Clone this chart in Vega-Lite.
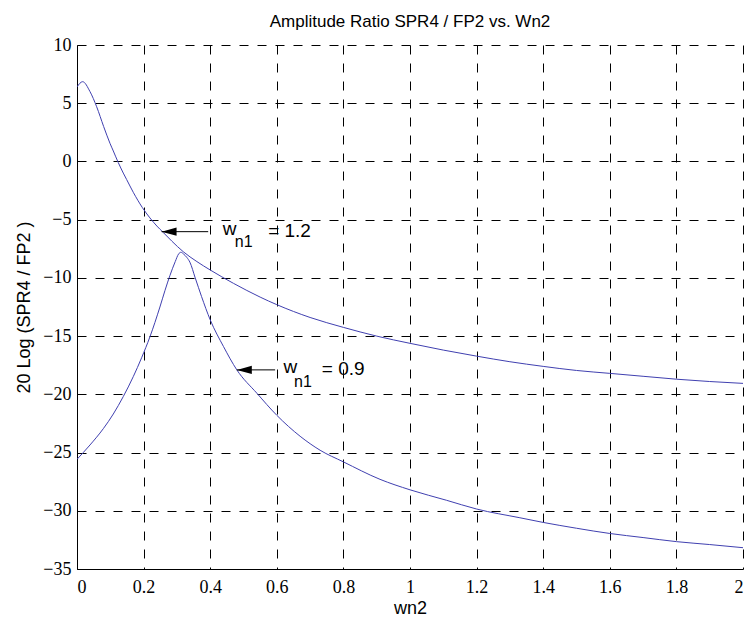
{
  "$schema": "https://vega.github.io/schema/vega-lite/v6.json",
  "width": 666,
  "height": 524,
  "autosize": {"type": "none"},
  "padding": {"left": 77, "top": 45, "right": 4, "bottom": 51},
  "background": "white",
  "config": {
    "view": {"stroke": null},
    "axis": {
      "domainColor": "black",
      "domainWidth": 1,
      "gridColor": "black",
      "gridOpacity": 1,
      "gridWidth": 1,
      "gridDash": [9, 9],
      "ticks": false,
      "labelColor": "black",
      "titleFont": "Liberation Sans",
      "titleFontSize": 18,
      "titleFontWeight": "normal",
      "titleColor": "black"
    }
  },
  "title": {
    "text": "Amplitude Ratio SPR4 / FP2 vs. Wn2",
    "font": "Liberation Sans",
    "fontSize": 17,
    "fontWeight": "normal",
    "color": "black",
    "anchor": "middle",
    "frame": "group",
    "offset": 5
  },
  "datasets": {
    "curves": [
      {"s": "wn1=1.2", "x": 0, "y": 6.4},
      {"s": "wn1=1.2", "x": 0.017, "y": 6.85},
      {"s": "wn1=1.2", "x": 0.039, "y": 6.0},
      {"s": "wn1=1.2", "x": 0.059, "y": 4.7},
      {"s": "wn1=1.2", "x": 0.08, "y": 3.0},
      {"s": "wn1=1.2", "x": 0.099, "y": 1.56},
      {"s": "wn1=1.2", "x": 0.109, "y": 0.9},
      {"s": "wn1=1.2", "x": 0.124, "y": -0.1},
      {"s": "wn1=1.2", "x": 0.139, "y": -1.0},
      {"s": "wn1=1.2", "x": 0.149, "y": -1.55},
      {"s": "wn1=1.2", "x": 0.169, "y": -2.65},
      {"s": "wn1=1.2", "x": 0.196, "y": -3.95},
      {"s": "wn1=1.2", "x": 0.219, "y": -4.85},
      {"s": "wn1=1.2", "x": 0.24, "y": -5.55},
      {"s": "wn1=1.2", "x": 0.259, "y": -6.1},
      {"s": "wn1=1.2", "x": 0.285, "y": -6.85},
      {"s": "wn1=1.2", "x": 0.319, "y": -7.75},
      {"s": "wn1=1.2", "x": 0.36, "y": -8.6},
      {"s": "wn1=1.2", "x": 0.4, "y": -9.32},
      {"s": "wn1=1.2", "x": 0.47, "y": -10.47},
      {"s": "wn1=1.2", "x": 0.55, "y": -11.65},
      {"s": "wn1=1.2", "x": 0.6, "y": -12.3},
      {"s": "wn1=1.2", "x": 0.7, "y": -13.4},
      {"s": "wn1=1.2", "x": 0.8, "y": -14.25},
      {"s": "wn1=1.2", "x": 0.9, "y": -15.0},
      {"s": "wn1=1.2", "x": 1.0, "y": -15.62},
      {"s": "wn1=1.2", "x": 1.1, "y": -16.2},
      {"s": "wn1=1.2", "x": 1.2, "y": -16.72},
      {"s": "wn1=1.2", "x": 1.3, "y": -17.2},
      {"s": "wn1=1.2", "x": 1.4, "y": -17.6},
      {"s": "wn1=1.2", "x": 1.5, "y": -17.95},
      {"s": "wn1=1.2", "x": 1.6, "y": -18.2},
      {"s": "wn1=1.2", "x": 1.7, "y": -18.45},
      {"s": "wn1=1.2", "x": 1.8, "y": -18.7},
      {"s": "wn1=1.2", "x": 1.9, "y": -18.9},
      {"s": "wn1=1.2", "x": 2.0, "y": -19.06},
      {"s": "wn1=0.9", "x": 0, "y": -25.58},
      {"s": "wn1=0.9", "x": 0.039, "y": -24.35},
      {"s": "wn1=0.9", "x": 0.079, "y": -22.95},
      {"s": "wn1=0.9", "x": 0.109, "y": -21.69},
      {"s": "wn1=0.9", "x": 0.139, "y": -20.19},
      {"s": "wn1=0.9", "x": 0.169, "y": -18.48},
      {"s": "wn1=0.9", "x": 0.194, "y": -16.86},
      {"s": "wn1=0.9", "x": 0.219, "y": -15.06},
      {"s": "wn1=0.9", "x": 0.249, "y": -12.5},
      {"s": "wn1=0.9", "x": 0.264, "y": -11.1},
      {"s": "wn1=0.9", "x": 0.279, "y": -9.8},
      {"s": "wn1=0.9", "x": 0.295, "y": -8.6},
      {"s": "wn1=0.9", "x": 0.305, "y": -7.95},
      {"s": "wn1=0.9", "x": 0.312, "y": -7.8},
      {"s": "wn1=0.9", "x": 0.32, "y": -7.95},
      {"s": "wn1=0.9", "x": 0.33, "y": -8.25},
      {"s": "wn1=0.9", "x": 0.339, "y": -8.65},
      {"s": "wn1=0.9", "x": 0.355, "y": -10.0},
      {"s": "wn1=0.9", "x": 0.374, "y": -11.6},
      {"s": "wn1=0.9", "x": 0.4, "y": -13.6},
      {"s": "wn1=0.9", "x": 0.44, "y": -15.9},
      {"s": "wn1=0.9", "x": 0.48, "y": -17.9},
      {"s": "wn1=0.9", "x": 0.54, "y": -19.9},
      {"s": "wn1=0.9", "x": 0.6, "y": -21.8},
      {"s": "wn1=0.9", "x": 0.67, "y": -23.6},
      {"s": "wn1=0.9", "x": 0.73, "y": -24.8},
      {"s": "wn1=0.9", "x": 0.8, "y": -25.8},
      {"s": "wn1=0.9", "x": 0.91, "y": -27.3},
      {"s": "wn1=0.9", "x": 1.0, "y": -28.2},
      {"s": "wn1=0.9", "x": 1.11, "y": -29.1},
      {"s": "wn1=0.9", "x": 1.2, "y": -29.85},
      {"s": "wn1=0.9", "x": 1.33, "y": -30.6},
      {"s": "wn1=0.9", "x": 1.4, "y": -31.0},
      {"s": "wn1=0.9", "x": 1.5, "y": -31.5},
      {"s": "wn1=0.9", "x": 1.6, "y": -31.95},
      {"s": "wn1=0.9", "x": 1.7, "y": -32.3},
      {"s": "wn1=0.9", "x": 1.8, "y": -32.65},
      {"s": "wn1=0.9", "x": 1.9, "y": -32.9},
      {"s": "wn1=0.9", "x": 2.0, "y": -33.17}
    ],
    "arrows": [
      {"x": 0.254, "x2": 0.394, "y": -6.03},
      {"x": 0.48, "x2": 0.595, "y": -17.9}
    ],
    "mainText": [
      {"x": 0.438, "y": -6.32, "t": "w"},
      {"x": 0.574, "y": -6.46, "t": "= 1.2"},
      {"x": 0.62, "y": -18.2, "t": "w"},
      {"x": 0.735, "y": -18.34, "t": "= 0.9"}
    ],
    "subText": [
      {"x": 0.474, "y": -7.32, "t": "n1"},
      {"x": 0.652, "y": -19.34, "t": "n1"}
    ]
  },
  "layer": [
    {
      "data": {"name": "curves"},
      "mark": {"type": "line", "color": "#4040b0", "strokeWidth": 1, "interpolate": "monotone", "clip": true},
      "encoding": {
        "x": {
          "field": "x", "type": "quantitative",
          "scale": {"domain": [0, 2], "nice": false, "zero": false},
          "axis": {
            "values": [0, 0.2, 0.4, 0.6, 0.8, 1, 1.2, 1.4, 1.6, 1.8, 2],
            "format": "~g",
            "title": "wn2",
            "labelFont": "Liberation Serif",
            "labelFontSize": 18,
            "labelPadding": 9,
            "titlePadding": 3,
            "grid": true
          }
        },
        "y": {
          "field": "y", "type": "quantitative",
          "scale": {"domain": [-35, 10], "nice": false, "zero": false},
          "axis": {
            "values": [-35, -30, -25, -20, -15, -10, -5, 0, 5, 10],
            "format": "~g",
            "title": "20 Log (SPR4 / FP2 )",
            "labelFont": "Liberation Serif",
            "labelFontSize": 18,
            "labelPadding": 6,
            "titlePadding": 9,
            "grid": true
          }
        },
        "detail": {"field": "s", "type": "nominal"}
      }
    },
    {
      "data": {"name": "arrows"},
      "mark": {"type": "rule", "color": "black", "strokeWidth": 1},
      "encoding": {
        "x": {"field": "x", "type": "quantitative"},
        "x2": {"field": "x2"},
        "y": {"field": "y", "type": "quantitative"}
      }
    },
    {
      "data": {"name": "arrows"},
      "mark": {"type": "point", "shape": "M0,0L2,-0.55L2,0.55Z", "filled": true, "color": "black", "opacity": 1, "size": 225},
      "encoding": {
        "x": {"field": "x", "type": "quantitative"},
        "y": {"field": "y", "type": "quantitative"}
      }
    },
    {
      "data": {"name": "mainText"},
      "mark": {"type": "text", "align": "left", "baseline": "alphabetic", "font": "Liberation Sans", "fontSize": 19, "color": "black"},
      "encoding": {
        "x": {"field": "x", "type": "quantitative"},
        "y": {"field": "y", "type": "quantitative"},
        "text": {"field": "t"}
      }
    },
    {
      "data": {"name": "subText"},
      "mark": {"type": "text", "align": "left", "baseline": "alphabetic", "font": "Liberation Sans", "fontSize": 16, "color": "black"},
      "encoding": {
        "x": {"field": "x", "type": "quantitative"},
        "y": {"field": "y", "type": "quantitative"},
        "text": {"field": "t"}
      }
    }
  ]
}
